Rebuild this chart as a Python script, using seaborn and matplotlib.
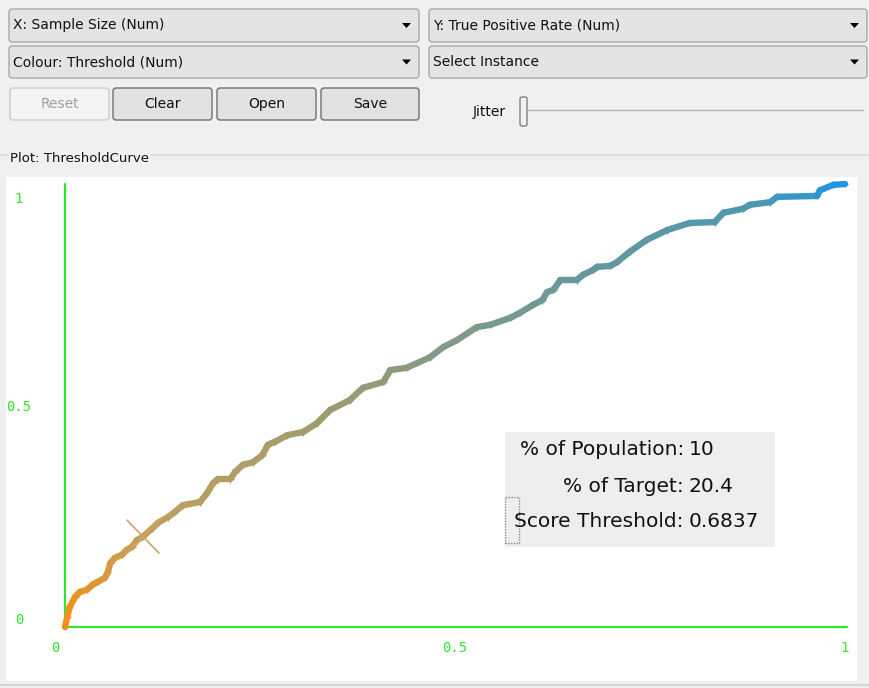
import matplotlib
matplotlib.use("Agg")
import numpy as np
import matplotlib.pyplot as plt
import seaborn as sns
from matplotlib.collections import LineCollection
from matplotlib.colors import LinearSegmentedColormap
from matplotlib.patches import FancyBboxPatch, Rectangle, Polygon

# curve values (sample size vs true positive rate)
sample_size = [0.000, 0.003, 0.006, 0.013, 0.019, 0.028, 0.035, 0.042, 0.051, 0.055,
               0.058, 0.064, 0.073, 0.079, 0.086, 0.092, 0.100, 0.112, 0.119, 0.132,
               0.141, 0.151, 0.173, 0.182, 0.190, 0.196, 0.212, 0.218, 0.228, 0.241,
               0.253, 0.260, 0.269, 0.285, 0.305, 0.323, 0.340, 0.365, 0.382, 0.408,
               0.417, 0.438, 0.468, 0.485, 0.503, 0.528, 0.545, 0.571, 0.583, 0.600,
               0.612, 0.618, 0.626, 0.635, 0.656, 0.664, 0.677, 0.682, 0.699, 0.708,
               0.724, 0.746, 0.772, 0.801, 0.833, 0.844, 0.869, 0.878, 0.904, 0.913,
               0.964, 0.968, 0.985, 1.000]
tp_rate = [0.000, 0.023, 0.045, 0.068, 0.079, 0.084, 0.095, 0.102, 0.111, 0.124,
           0.144, 0.156, 0.163, 0.174, 0.181, 0.196, 0.204, 0.223, 0.235, 0.248,
           0.260, 0.275, 0.282, 0.302, 0.325, 0.334, 0.334, 0.350, 0.366, 0.372,
           0.388, 0.411, 0.418, 0.433, 0.440, 0.460, 0.490, 0.512, 0.540, 0.553,
           0.580, 0.585, 0.609, 0.632, 0.648, 0.677, 0.682, 0.698, 0.709, 0.727,
           0.738, 0.756, 0.761, 0.783, 0.783, 0.795, 0.806, 0.813, 0.815, 0.824,
           0.847, 0.874, 0.896, 0.912, 0.914, 0.935, 0.944, 0.953, 0.959, 0.971,
           0.973, 0.986, 0.998, 1.000]

tick_vals = [0, 0.5, 1]
tick_labels = ["0", "0.5", "1"]

# selected instance
sel_population = 10
sel_target = 20.4
sel_threshold = 0.6837

combo_labels = ["X: Sample Size (Num)", "Y: True Positive Rate (Num)",
                "Colour: Threshold (Num)", "Select Instance"]
button_labels = ["Reset", "Clear", "Open", "Save"]

BG = "#f0f0f0"
GREEN = "#2ee82e"
W, H = 869, 688

sns.set_style("white")
plt.rcParams["font.family"] = ["DejaVu Sans"]

fig = plt.figure(figsize=(W / 100, H / 100), dpi=100, facecolor=BG)

# ---- GUI controls, drawn in pixel coordinates ----
gui = fig.add_axes([0, 0, 1, 1])
gui.set_xlim(0, W)
gui.set_ylim(H, 0)
gui.axis("off")
gui.set_facecolor(BG)


def combo(x0, y0, x1, y1, label):
    gui.add_patch(FancyBboxPatch((x0, y0), x1 - x0, y1 - y0,
                                 boxstyle="round,pad=0,rounding_size=3",
                                 fc="#e4e4e4", ec="#a9a9a9", lw=1))
    yc = (y0 + y1) / 2
    gui.text(x0 + 4, yc, label, ha="left", va="center", fontsize=10, color="#111111")
    gui.add_patch(Polygon([(x1 - 17, yc - 2.5), (x1 - 8, yc - 2.5), (x1 - 12.5, yc + 2.5)],
                          closed=True, fc="black", ec="none"))


combo(9, 9, 419, 42, combo_labels[0])
combo(429, 9, 867, 42, combo_labels[1])
combo(9, 46, 419, 78, combo_labels[2])
combo(429, 46, 867, 78, combo_labels[3])

btn_x = [(10, 109), (113, 212), (217, 316), (321, 419)]
for (bx0, bx1), lab in zip(btn_x, button_labels):
    disabled = lab == "Reset"
    gui.add_patch(FancyBboxPatch((bx0, 88), bx1 - bx0, 32,
                                 boxstyle="round,pad=0,rounding_size=3",
                                 fc="#f4f4f4" if disabled else "#e2e2e2",
                                 ec="#cccccc" if disabled else "#707070", lw=1))
    gui.text((bx0 + bx1) / 2, 104, lab, ha="center", va="center", fontsize=10,
             color="#a0a0a0" if disabled else "#111111")

# jitter slider
gui.text(489, 112, "Jitter", ha="center", va="center", fontsize=10, color="#111111")
gui.plot([527, 863], [110, 110], color="#b4b4b4", lw=1)
gui.add_patch(FancyBboxPatch((520, 97), 7, 29, boxstyle="round,pad=0,rounding_size=2",
                             fc="#f2f2f2", ec="#808080", lw=1))

# titled border for the plot
gui.plot([0, W], [155, 155], color="#d9dfe3", lw=1.2)
gui.text(10, 158, "Plot: ThresholdCurve", ha="left", va="center", fontsize=9.5,
         color="#111111", bbox=dict(fc=BG, ec="none", pad=1))
gui.plot([0, W], [685, 685], color="#d6d6d6", lw=1.5)

# ---- plot panel ----
ax = fig.add_axes([6 / W, (H - 681) / H, (857 - 6) / W, (681 - 177) / H])
ax.set_facecolor("white")
ax.set_xlim(-59 / 780, 792 / 780)
ax.set_ylim(-54 / 443, 450 / 443)
for s in ax.spines.values():
    s.set_visible(False)
ax.set_xticks([])
ax.set_yticks([])

# axes lines in green
ax.plot([0, 0], [0, 1.0], color=GREEN, lw=1.6, zorder=2)
ax.plot([0, 1.003], [0, 0], color=GREEN, lw=1.6, zorder=2)

mono = "DejaVu Sans Mono"
y_label_pos = [0.016, 0.497, 0.966]
for lab, yp in zip(tick_labels, y_label_pos):
    ax.text(-0.059, yp, lab, ha="center", va="center", fontsize=10, color=GREEN, family=mono)
x_label_pos = [-0.013, 0.5, 1.0]
for lab, xp in zip(tick_labels, x_label_pos):
    ax.text(xp, -0.047, lab, ha="center", va="center", fontsize=10, color=GREEN, family=mono)

# colour scale for threshold (orange -> blue)
cmap = LinearSegmentedColormap.from_list(
    "weka", [(0.0, "#f0901c"), (0.05, "#d89a40"), (0.12, "#c0a060"),
             (0.3, "#a39c6a"), (0.5, "#82998a"), (0.7, "#62989e"),
             (0.9, "#4b98b4"), (1.0, "#1e96e8")])

xs = np.array(sample_size)
ys = np.array(tp_rate)
pts = np.column_stack([xs, ys]).reshape(-1, 1, 2)
segs = np.concatenate([pts[:-1], pts[1:]], axis=1)
mid = (xs[:-1] + xs[1:]) / 2
lc = LineCollection(segs, colors=cmap(mid), linewidths=4.6, capstyle="round",
                    joinstyle="round", zorder=3)
ax.add_collection(lc)
sns.scatterplot(x=sample_size, y=tp_rate, hue=sample_size, palette=cmap, hue_norm=(0, 1),
                marker="+", s=25, linewidth=1.0, legend=False, ax=ax, zorder=4)

# crosshair at the selected instance
sx, sy = sel_population / 100, sel_target / 100
dx, dy = 16 / 780, 16.5 / 443
ax.plot([sx - dx, sx + dx], [sy + dy, sy - dy], color="#c8a868", lw=1.2, zorder=5)
ax.plot([sx - dx, sx + dx], [sy - dy, sy + dy], color="#c8a868", lw=1.2, zorder=5)

# info box
ax.add_patch(Rectangle((0.564, 0.181), 0.346, 0.259, fc="#eeeeee", ec="none", zorder=5))
ax.add_patch(Rectangle((0.564, 0.190), 0.018, 0.104, fc="none", ec="#888888",
                       lw=1, ls=(0, (1, 1)), zorder=6))
info = [("% of Population:", f"{sel_population}", 0.400),
        ("% of Target:", f"{sel_target}", 0.318),
        ("Score Threshold:", f"{sel_threshold}", 0.239)]
lab_x = (684 - 65) / 780
val_x = (689 - 65) / 780
for lab, val, yp in info:
    ax.text(lab_x, yp, lab, ha="right", va="center", fontsize=14.5, color="#111111", zorder=7)
    ax.text(val_x, yp, val, ha="left", va="center", fontsize=14.5, color="#111111", zorder=7)

fig.savefig("out.png", dpi=100, facecolor=BG)
